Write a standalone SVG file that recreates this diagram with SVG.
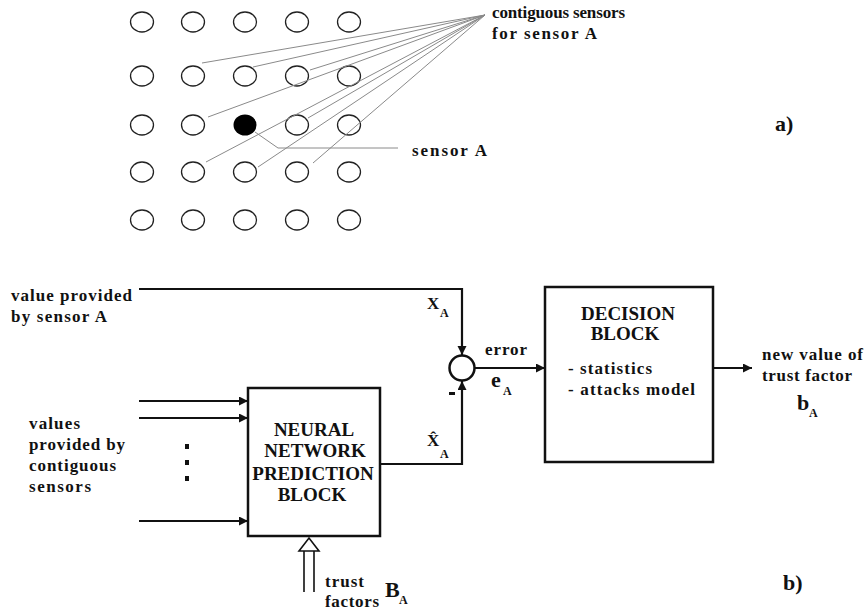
<svg xmlns="http://www.w3.org/2000/svg" width="866" height="610" viewBox="0 0 866 610">
<style>
.t{font-size:17px}
.b{font-size:19px}
.sub{font-size:12px}
.big{font-size:22px}
.dot{fill:none;stroke:#222;stroke-width:1.3}
.g{stroke:#8a8a8a;stroke-width:1;fill:none}
.w{stroke:#111;stroke-width:2.2;fill:none}
.box{fill:#fff;stroke:#111;stroke-width:2.5}
</style>
<defs>
<marker id="ah" markerWidth="10" markerHeight="10" refX="9" refY="4.5" orient="auto" markerUnits="userSpaceOnUse"><path d="M0,0 L9,4.5 L0,9 Z" fill="#111"/></marker>
</defs>
<g id="grid">
<ellipse class="dot" cx="142" cy="22" rx="11.5" ry="10"/><ellipse class="dot" cx="193" cy="22" rx="11.5" ry="10"/><ellipse class="dot" cx="245" cy="22" rx="11.5" ry="10"/><ellipse class="dot" cx="297" cy="22" rx="11.5" ry="10"/><ellipse class="dot" cx="349" cy="22" rx="11.5" ry="10"/>
<ellipse class="dot" cx="142" cy="76" rx="11.5" ry="10"/><ellipse class="dot" cx="193" cy="76" rx="11.5" ry="10"/><ellipse class="dot" cx="245" cy="76" rx="11.5" ry="10"/><ellipse class="dot" cx="297" cy="76" rx="11.5" ry="10"/><ellipse class="dot" cx="349" cy="76" rx="11.5" ry="10"/>
<ellipse class="dot" cx="142" cy="125" rx="11.5" ry="10"/><ellipse class="dot" cx="193" cy="125" rx="11.5" ry="10"/><ellipse cx="245" cy="125" rx="11.5" ry="10.5" fill="#000"/><ellipse class="dot" cx="297" cy="125" rx="11.5" ry="10"/><ellipse class="dot" cx="349" cy="125" rx="11.5" ry="10"/>
<ellipse class="dot" cx="142" cy="172" rx="11.5" ry="10"/><ellipse class="dot" cx="193" cy="172" rx="11.5" ry="10"/><ellipse class="dot" cx="245" cy="172" rx="11.5" ry="10"/><ellipse class="dot" cx="297" cy="172" rx="11.5" ry="10"/><ellipse class="dot" cx="349" cy="172" rx="11.5" ry="10"/>
<ellipse class="dot" cx="142" cy="220" rx="11.5" ry="10"/><ellipse class="dot" cx="193" cy="220" rx="11.5" ry="10"/><ellipse class="dot" cx="245" cy="220" rx="11.5" ry="10"/><ellipse class="dot" cx="297" cy="220" rx="11.5" ry="10"/><ellipse class="dot" cx="349" cy="220" rx="11.5" ry="10"/>
</g>
<g id="grid-lines">
<path class="g" d="M485,15 L202,63 M485,15 L253,67 M485,15 L310,70 M485,15 L208,117 M485,15 L308,118 M485,15 L206,162 M485,15 L258,167 M485,15 L313,163"/>
<path class="g" d="M255,132 L278,148 L398,148"/>
</g>
<g font-family="'Liberation Serif', 'Times New Roman', serif" font-weight="bold" fill="#111">
<g id="grid-labels">
<text class="t" x="492" y="18" textLength="133">contiguous sensors</text>
<text class="t" x="492" y="39" textLength="105">for sensor A</text>
<text class="t" x="412" y="156" textLength="75">sensor A</text>
<text class="big" x="775" y="131">a)</text>
</g>
<g id="connectors">
<path class="w" d="M139,289 H462 V355" marker-end="url(#ah)"/>
<path class="w" d="M380,464 H462 V381" marker-end="url(#ah)"/>
<path class="w" d="M475,368 H545" marker-end="url(#ah)"/>
<path class="w" d="M713,368 H752" marker-end="url(#ah)"/>
<path class="w" d="M139,401 H248" marker-end="url(#ah)"/>
<path class="w" d="M139,418 H248" marker-end="url(#ah)"/>
<path class="w" d="M139,521 H248" marker-end="url(#ah)"/>
<g id="trust-arrow" fill="#fff" stroke="#111" stroke-width="1.6">
<path d="M304,592 V551 M314,592 V551" fill="none"/>
<path d="M299,551 L309,538 L319,551 Z"/>
</g>
</g>
<g id="sum">
<circle cx="462" cy="368" r="12.5" fill="#fff" stroke="#111" stroke-width="2.5"/>
<rect x="449" y="392" width="6" height="3" fill="#111"/>
</g>
<g id="nn">
<rect class="box" x="248" y="388" width="132" height="148"/>
<text class="b" x="314" y="436" text-anchor="middle">NEURAL</text>
<text class="b" x="315" y="457" text-anchor="middle">NETWORK</text>
<text class="b" x="313" y="480" text-anchor="middle">PREDICTION</text>
<text class="b" x="312" y="501" text-anchor="middle">BLOCK</text>
</g>
<g id="decision">
<rect class="box" x="545" y="287" width="168" height="175"/>
<text class="b" x="628" y="320" text-anchor="middle">DECISION</text>
<text class="b" x="625" y="340" text-anchor="middle">BLOCK</text>
<text class="t" x="568" y="374" textLength="84">- statistics</text>
<text class="t" x="568" y="395" textLength="127">- attacks model</text>
</g>
<g id="labels">
<text class="t" x="11" y="301" textLength="121">value provided</text>
<text class="t" x="11" y="322" textLength="96">by sensor A</text>
<text class="t" x="29" y="429" textLength="51">values</text>
<text class="t" x="29" y="450" textLength="96">provided by</text>
<text class="t" x="29" y="471" textLength="87">contiguous</text>
<text class="t" x="29" y="492" textLength="62">sensors</text>
<rect x="185" y="444" width="4" height="5" fill="#111"/>
<rect x="185" y="460" width="4" height="5" fill="#111"/>
<rect x="185" y="476" width="4" height="5" fill="#111"/>
<text class="t" x="427" y="309">X</text><text class="sub" x="440" y="317">A</text>
<text class="t" x="427" y="446">X̂</text><text class="sub" x="440" y="458">A</text>
<text class="t" x="485" y="355" textLength="42">error</text>
<text class="big" x="491" y="387">e</text><text class="sub" x="503" y="395">A</text>
<text class="t" x="762" y="360" textLength="101">new value of</text>
<text class="t" x="762" y="381" textLength="90">trust factor</text>
<text class="big" x="797" y="410">b</text><text class="sub" x="809" y="417">A</text>
<text class="t" x="325" y="587" textLength="39">trust</text>
<text class="t" x="325" y="607" textLength="54">factors</text>
<text class="big" x="385" y="597">B</text><text class="sub" x="399" y="604">A</text>
<text class="big" x="783" y="590">b)</text>
</g>
</g>
</svg>
